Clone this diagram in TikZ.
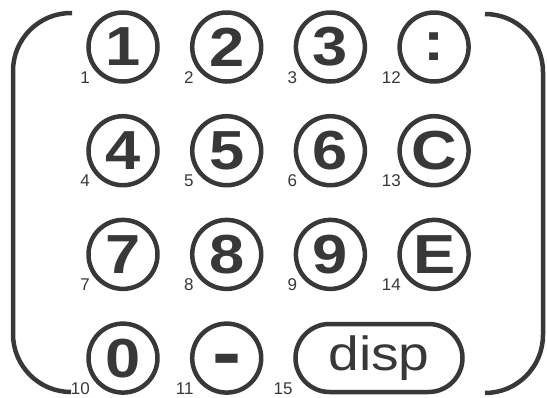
\documentclass[tikz,border=0pt]{standalone}
\usepackage{fontspec}
\setmainfont{Liberation Sans}
\newfontfamily\keyfont[FakeStretch=1.15]{Liberation Sans}
\usetikzlibrary{positioning}
\definecolor{ink}{HTML}{383838}
\tikzset{
  keyround/.style={circle,draw=ink,line width=4.5pt,minimum size=69pt,inner sep=0pt,
                   text=ink,font=\keyfont\bfseries\fontsize{55}{55}\selectfont},
  keywide/.style={rounded corners=34pt,draw=ink,line width=4.5pt,minimum width=167pt,
                  minimum height=68pt,inner sep=0pt,text=ink,font=\keyfont\fontsize{48}{48}\selectfont},
  keynum/.style={anchor=base east,inner sep=0pt,text=ink,font=\fontsize{17}{17}\selectfont},
  bracket/.style={draw=ink,line width=4.5pt,rounded corners=58pt}
}

\begin{document}
\begin{tikzpicture}[x=1pt,y=-1pt]
  \useasboundingbox (0,0) rectangle (547,397);
  % keypad
  \foreach \name/\txt/\col/\row/\num in {k1/1/0/0/1,k2/2/1/0/2,k3/3/2/0/3,kcolon/:/3/0/12,
      k4/4/0/1/4,k5/5/1/1/5,k6/6/2/1/6,kc/C/3/1/13,
      k7/7/0/2/7,k8/8/1/2/8,k9/9/2/2/9,ke/E/3/2/14,
      k0/0/0/3/10,kminus/{\fontsize{76}{76}\selectfont\smash{\raisebox{-20pt}{-}}}/1/3/11}{
    \node[keyround] (\name) at ({123+103.7*\col},{47+103.7*\row}) {\txt};
    \node[keynum] at ([shift={(-33,36)}]\name.center) {\num};
  }
  \node[keywide] (kdisp) at (379,358) {disp};
  \node[keynum] at ([shift={(-0.5,36)}]kdisp.west) {15};
  % brackets
  \draw[bracket] (72,13) -- (13,13) -- (13,392) -- (70,392);
  \draw[bracket] (485,14) -- (543,14) -- (543,393) -- (485,393);
\end{tikzpicture}
\end{document}
